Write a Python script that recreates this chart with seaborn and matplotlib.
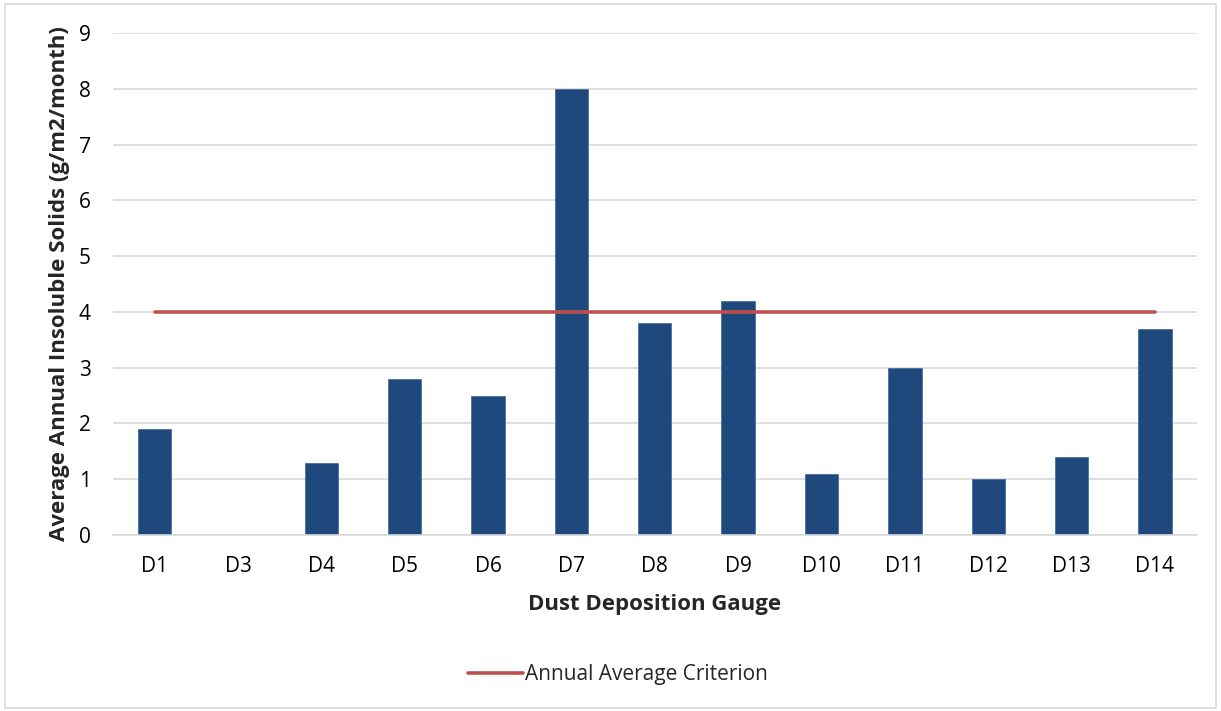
import numpy as np
import pandas as pd
import matplotlib
matplotlib.use("Agg")
import matplotlib.pyplot as plt
import seaborn as sns

# Data
gauges = ['D1', 'D3', 'D4', 'D5', 'D6', 'D7', 'D8', 'D9', 'D10', 'D11', 'D12', 'D13', 'D14']
insoluble = [1.9, 0.0, 1.3, 2.8, 2.5, 8.0, 3.8, 4.2, 1.1, 3.0, 1.0, 1.4, 3.7]
criterion = [4, 4, 4, 4, 4, 4, 4, 4, 4, 4, 4, 4, 4]

df = pd.DataFrame({'gauge': gauges, 'solids': insoluble, 'criterion': criterion})

sns.set_style("white")
plt.rcParams['font.family'] = ['Open Sans', 'DejaVu Sans']

fig = plt.figure(figsize=(12.21, 7.11), dpi=100)
ax = fig.add_axes([0.0925, 0.2475, 0.8875, 0.706])

sns.barplot(data=df, x='gauge', y='solids', color='#1F497D', width=0.4,
            edgecolor='#4A6F9E', linewidth=0.6, saturation=1, ax=ax)
sns.lineplot(data=df, x='gauge', y='criterion', color='#C0504D', linewidth=2.6,
             label='Annual Average Criterion', ax=ax)

ax.set_ylim(0, 9)
ax.set_yticks(range(0, 10))
ax.set_xlim(-0.5, len(gauges) - 0.5)
ax.yaxis.grid(True, color='#D9D9D9', linewidth=1.2)
ax.set_axisbelow(True)
for s in ['top', 'right', 'left']:
    ax.spines[s].set_visible(False)
ax.spines['bottom'].set_color('#D9D9D9')
ax.spines['bottom'].set_linewidth(1.2)

ax.tick_params(axis='both', which='major', length=0, labelsize=15, colors='#000000')
ax.tick_params(axis='y', pad=16)
ax.tick_params(axis='x', pad=15)
ax.set_xticks(np.arange(len(gauges) + 1) - 0.5, minor=True)
ax.tick_params(axis='x', which='minor', length=8, width=1.2, color='#D9D9D9', direction='out')

ax.set_xlabel('Dust Deposition Gauge', fontsize=16, fontweight='bold', labelpad=12)
ax.set_ylabel('Average Annual Insoluble Solids (g/m2/month)', fontsize=16,
              fontweight='bold', labelpad=6)

leg = ax.legend(loc='center', bbox_to_anchor=(0.466, -0.278), frameon=False,
                fontsize=15, handlelength=2.6, handletextpad=0.1)

fig.patches.append(plt.Rectangle((0.004, 0.004), 0.992, 0.99, transform=fig.transFigure,
                                 fill=False, edgecolor='#D9D9D9', linewidth=1.2))

fig.savefig('out.png', dpi=100, facecolor='white')
